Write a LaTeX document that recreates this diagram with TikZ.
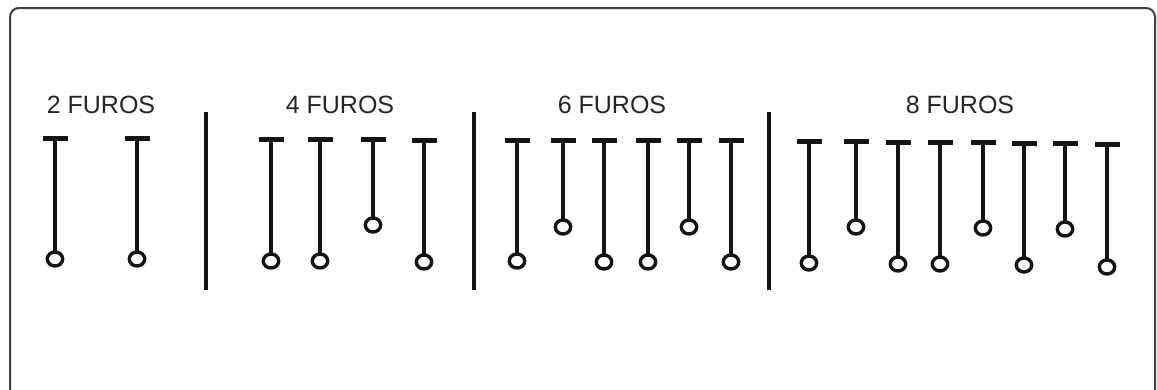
\documentclass[tikz,border=0pt]{standalone}
\usepackage{fontspec}
\setmainfont{Liberation Sans}
\newcommand\furopin[3]{%
  \draw[pinbar] (#1-12.5,#2) -- (#1+12.5,#2);
  \draw[pinstem] (#1,#2) -- (#1,#3-7);
  \draw[pinhead] (#1,#3) ellipse [x radius=7.7, y radius=7];
}
\begin{document}
\begin{tikzpicture}[x=1pt,y=-1pt,
  pinstem/.style={line width=3.6pt, black!92},
  pinbar/.style={line width=5pt, black!92},
  pinhead/.style={line width=3.4pt, black!92},
  divider/.style={line width=3.4pt, black!92},
  frame/.style={line width=2pt, black!75, rounded corners=9pt},
  lbl/.style={font=\fontsize{25}{30}\selectfont, text=black!85, anchor=base, inner sep=0pt}]
\useasboundingbox (0,0) rectangle (1157,389);
\clip (0,0) rectangle (1157,389);
\draw[frame] (10,420) -- (10,8) -- (1155,8) -- (1155,420);
% labels
\node[lbl] (l2) at (101,113) {2 FUROS};
\node[lbl] (l4) at (340,113) {4 FUROS};
\node[lbl] (l6) at (612,113) {6 FUROS};
\node[lbl] (l8) at (960,113) {8 FUROS};
% dividers
\coordinate (d1a) at (206,112); \coordinate (d1b) at (206,290);
\coordinate (d2a) at (474,112); \coordinate (d2b) at (474,290);
\coordinate (d3a) at (769,112); \coordinate (d3b) at (769,290);
\draw[divider] (d1a) -- (d1b);
\draw[divider] (d2a) -- (d2b);
\draw[divider] (d3a) -- (d3b);
% 2 furos
\furopin{55}{138}{259}
\furopin{137}{138}{259}
% 4 furos
\furopin{271}{139.5}{261}
\furopin{320}{139.5}{261}
\furopin{373}{139.5}{225}
\furopin{424}{140.5}{262}
% 6 furos
\furopin{517}{140.5}{261}
\furopin{563}{140.5}{227}
\furopin{604}{140.5}{262}
\furopin{648}{140.5}{262}
\furopin{689}{140.5}{227}
\furopin{731}{140.5}{262}
% 8 furos
\furopin{809}{141}{263}
\furopin{856}{141}{227}
\furopin{898}{142}{264}
\furopin{940}{142}{264}
\furopin{983}{142}{228}
\furopin{1024}{143}{265}
\furopin{1065}{143}{229}
\furopin{1107}{144}{267}
\end{tikzpicture}
\end{document}
